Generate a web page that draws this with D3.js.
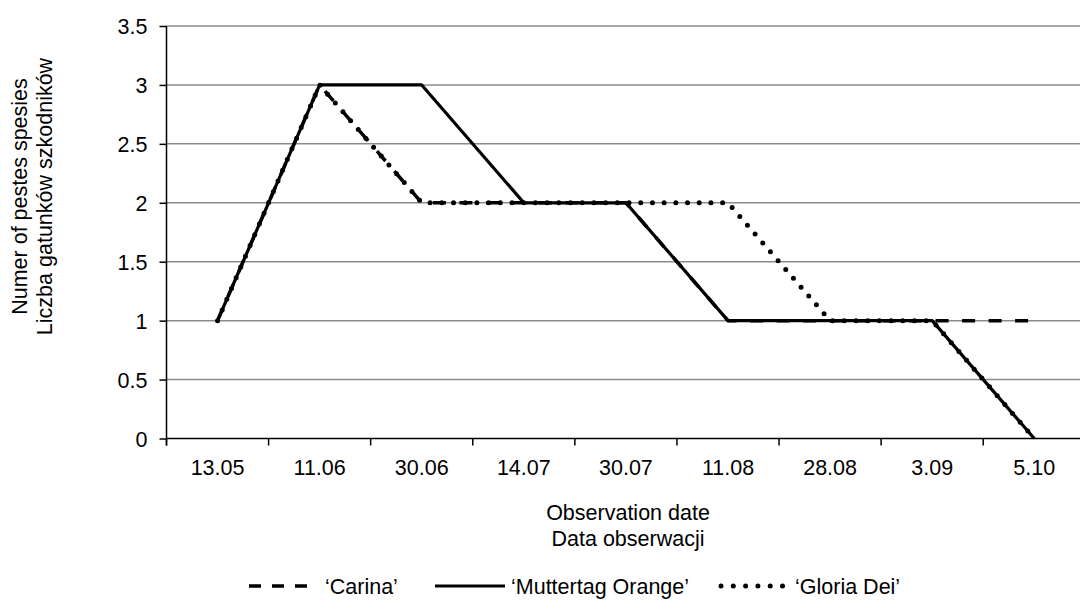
<!DOCTYPE html>
<html>
<head>
<meta charset="utf-8">
<script src="https://cdn.jsdelivr.net/npm/d3@7"></script>
<style>
  body { margin: 0; background: #fff; }
  text { font-family: "Liberation Sans", Arial, sans-serif; fill: #000; }
</style>
</head>
<body>
<svg id="chart" width="1080" height="601"></svg>
<script>
// data
var dates = ["13.05", "11.06", "30.06", "14.07", "30.07", "11.08", "28.08", "3.09", "5.10"];
var carina = [1, 3, 2, 2, 2, 1, 1, 1, 1];
var muttertag = [1, 3, 3, 2, 2, 1, 1, 1, 0];
var gloriaDei = [1, 3, 2, 2, 2, 2, 1, 1, 0];
var yTicks = [0, 0.5, 1, 1.5, 2, 2.5, 3, 3.5];

var series = [
  { name: "\u2018Carina\u2019", values: carina, dash: "13,13.5", width: 3.5, cap: "butt", legendDash: "12,11", lx: 249, lw: 68, tx: 325 },
  { name: "\u2018Muttertag Orange\u2019", values: muttertag, dash: null, width: 3.2, cap: "butt", legendDash: null, lx: 435, lw: 70, tx: 511 },
  { name: "\u2018Gloria Dei\u2019", values: gloriaDei, dash: "0,11.7", width: 5, cap: "round", legendDash: "0,12.3", lx: 721, lw: 62, tx: 795 }
];

var margin = { top: 26, left: 166.5 },
  plotRight = 1085.3,
  plotBottom = 438.5,
  fontSize = "21.5px";

var svg = d3.select("#chart");

var x = d3.scaleBand().domain(dates).range([margin.left, plotRight]).padding(0);
var y = d3.scaleLinear().domain([0, 3.5]).range([plotBottom, margin.top]);

function cx(i) {
  return x(dates[i]) + x.bandwidth() / 2;
}

// gridlines
svg.append("g")
  .selectAll("line")
  .data(yTicks.filter(function(d) { return d > 0; }))
  .enter()
  .append("line")
  .attr("x1", margin.left)
  .attr("x2", plotRight)
  .attr("y1", function(d) { return y(d); })
  .attr("y2", function(d) { return y(d); })
  .attr("stroke", "#8a8a8a")
  .attr("stroke-width", 1.5);

// y axis
var yAxis = svg.append("g")
  .attr("transform", "translate(" + margin.left + ",0)")
  .call(d3.axisLeft(y).tickValues(yTicks).tickSize(7).tickPadding(12).tickFormat(d3.format("")));
yAxis.select(".domain").attr("stroke", "#000").attr("stroke-width", 1.5)
  .attr("d", "M0," + margin.top + "V" + (plotBottom + 7));
yAxis.selectAll(".tick line").attr("stroke", "#000").attr("stroke-width", 1.5);
yAxis.selectAll("text").style("font-size", fontSize).attr("dy", "0.36em");

// x axis, labels in the middle of each band, ticks on the band edges
var xAxis = svg.append("g")
  .attr("transform", "translate(0," + plotBottom + ")")
  .call(d3.axisBottom(x).tickSize(0).tickPadding(0));
xAxis.select(".domain").attr("stroke", "#000").attr("stroke-width", 1.5)
  .attr("d", "M" + margin.left + ",0H" + plotRight);
xAxis.selectAll("text").style("font-size", fontSize).attr("dy", null).attr("y", 36.5);

xAxis.selectAll(".edge")
  .data(dates)
  .enter()
  .append("line")
  .attr("class", "edge")
  .attr("x1", function(d) { return x(d); })
  .attr("x2", function(d) { return x(d); })
  .attr("y1", 0)
  .attr("y2", 7)
  .attr("stroke", "#000")
  .attr("stroke-width", 1.5);

// axis titles
svg.append("text")
  .attr("x", 628).attr("y", 520)
  .attr("text-anchor", "middle")
  .style("font-size", fontSize)
  .text("Observation date");
svg.append("text")
  .attr("x", 628).attr("y", 546)
  .attr("text-anchor", "middle")
  .style("font-size", fontSize)
  .text("Data obserwacji");

svg.append("text")
  .attr("transform", "translate(27,196.5)rotate(-90)")
  .attr("text-anchor", "middle")
  .style("font-size", fontSize)
  .text("Numer of pestes spesies");
svg.append("text")
  .attr("transform", "translate(52,196.5)rotate(-90)")
  .attr("text-anchor", "middle")
  .style("font-size", fontSize)
  .text("Liczba gatunk\u00f3w szkodnik\u00f3w");

// lines
var line = d3.line()
  .x(function(d, i) { return cx(i); })
  .y(function(d) { return y(d); });

svg.append("g")
  .selectAll("path")
  .data(series)
  .enter()
  .append("path")
  .attr("d", function(s) { return line(s.values); })
  .attr("fill", "none")
  .attr("stroke", "#000")
  .attr("stroke-width", function(s) { return s.width; })
  .attr("stroke-linecap", function(s) { return s.cap; })
  .attr("stroke-linejoin", "round")
  .attr("stroke-dasharray", function(s) { return s.dash; });

// legend
var legendY = 586;
var legend = svg.append("g")
  .selectAll("g")
  .data(series)
  .enter()
  .append("g");

legend.append("line")
  .attr("x1", function(s) { return s.lx; })
  .attr("x2", function(s) { return s.lx + s.lw; })
  .attr("y1", legendY)
  .attr("y2", legendY)
  .attr("stroke", "#000")
  .attr("stroke-width", function(s) { return s.width; })
  .attr("stroke-linecap", function(s) { return s.cap; })
  .attr("stroke-dasharray", function(s) { return s.legendDash; });

legend.append("text")
  .attr("x", function(s) { return s.tx; })
  .attr("y", 594)
  .style("font-size", fontSize)
  .text(function(s) { return s.name; });
</script>
</body>
</html>
